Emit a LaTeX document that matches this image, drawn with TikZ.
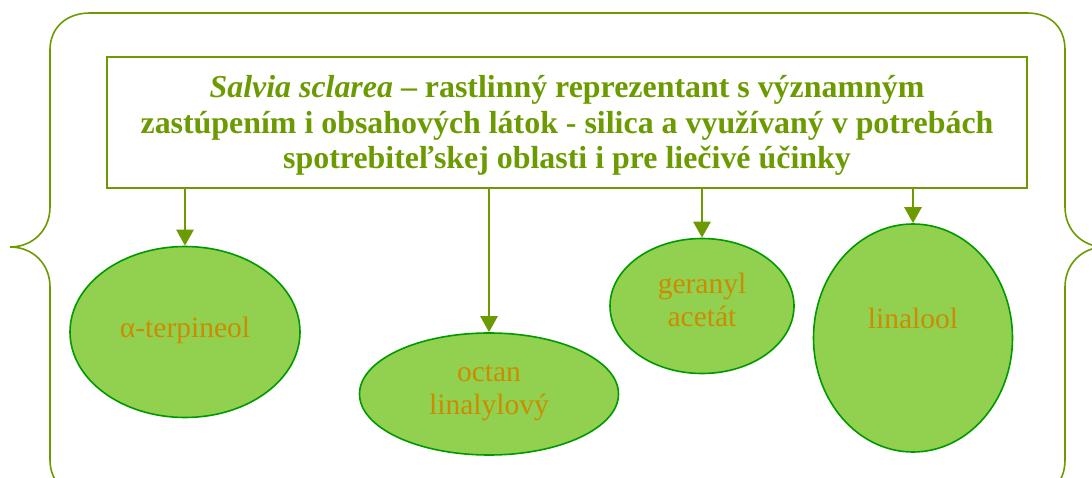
\documentclass[tikz,border=0pt]{standalone}
\usepackage{fontspec}
\setmainfont{Liberation Serif}
\usetikzlibrary{arrows.meta,positioning,shapes.geometric}
\definecolor{leafline}{HTML}{6B9B00}
\definecolor{leaffill}{HTML}{92D050}
\definecolor{leafrim}{HTML}{009A00}
\definecolor{oiltext}{HTML}{CC8C00}

\begin{document}
\begin{tikzpicture}[x=1pt,y=-1pt,
    leaf/.style={ellipse,draw=leafrim,line width=1.6pt,fill=leaffill,inner sep=0pt},
    oil/.style={text=oiltext,font=\fontsize{29.5}{33}\selectfont,align=center,inner sep=0pt},
    link/.style={draw=leafline,line width=2.8pt,-{Triangle[width=17pt,length=16pt]}}]
    \useasboundingbox (0,0) rectangle (1092,478);
    \clip (0,0) rectangle (1092,478);
    % outer brace
    \draw[leafline,line width=1.6pt]
        (90,13) -- (1027,13) .. controls (1050,13) and (1065,27) .. (1065,50)
        -- (1065,207) .. controls (1065,230) and (1082,247) .. (1105,247)
        .. controls (1082,247) and (1065,264) .. (1065,287)
        -- (1065,460) .. controls (1065,483) and (1050,497) .. (1027,497)
        -- (90,497) .. controls (67,497) and (50,483) .. (50,460)
        -- (50,287) .. controls (50,264) and (33,247) .. (10,247)
        .. controls (33,247) and (50,230) .. (50,207)
        -- (50,50) .. controls (50,27) and (67,13) .. cycle;
    \node[draw=leafline,line width=1.6pt,minimum width=920pt,minimum height=131pt,
        text=leafline,font=\fontsize{31.9}{35.5}\selectfont\bfseries,align=center,inner sep=0pt]
        (head) at (567,122.5) {};
    \node[text=leafline,font=\fontsize{31.9}{35.5}\selectfont\bfseries,align=center,inner sep=0pt]
        (title) at ([yshift=-3pt]head.center)
        {\textit{Salvia sclarea} – rastlinný reprezentant s významným\\
         zastúpením i obsahových látok - silica a využívaný v potrebách\\
         spotrebiteľskej oblasti i pre liečivé účinky};
    \node[leaf,minimum width=230pt,minimum height=171pt] (e1) at (185,332) {};
    \node[leaf,minimum width=259pt,minimum height=122pt] (e2) at (489,394) {};
    \node[leaf,minimum width=184pt,minimum height=135pt] (e3) at (702,306) {};
    \node[leaf,minimum width=199pt,minimum height=228pt] (e4) at (913,338) {};
    \node[oil] (t1) at (185,330) {α-terpineol};
    \node[oil] (t2) at (489,393) {octan\\linalylový};
    \node[oil] (t3) at (702,300) {geranyl\\acetát};
    \node[oil] (t4) at (913,318) {linalool};
    \foreach \e in {e1,e2,e3,e4}
        \draw[link] (head.south -| \e.north) -- (\e.north);
\end{tikzpicture}
\end{document}
